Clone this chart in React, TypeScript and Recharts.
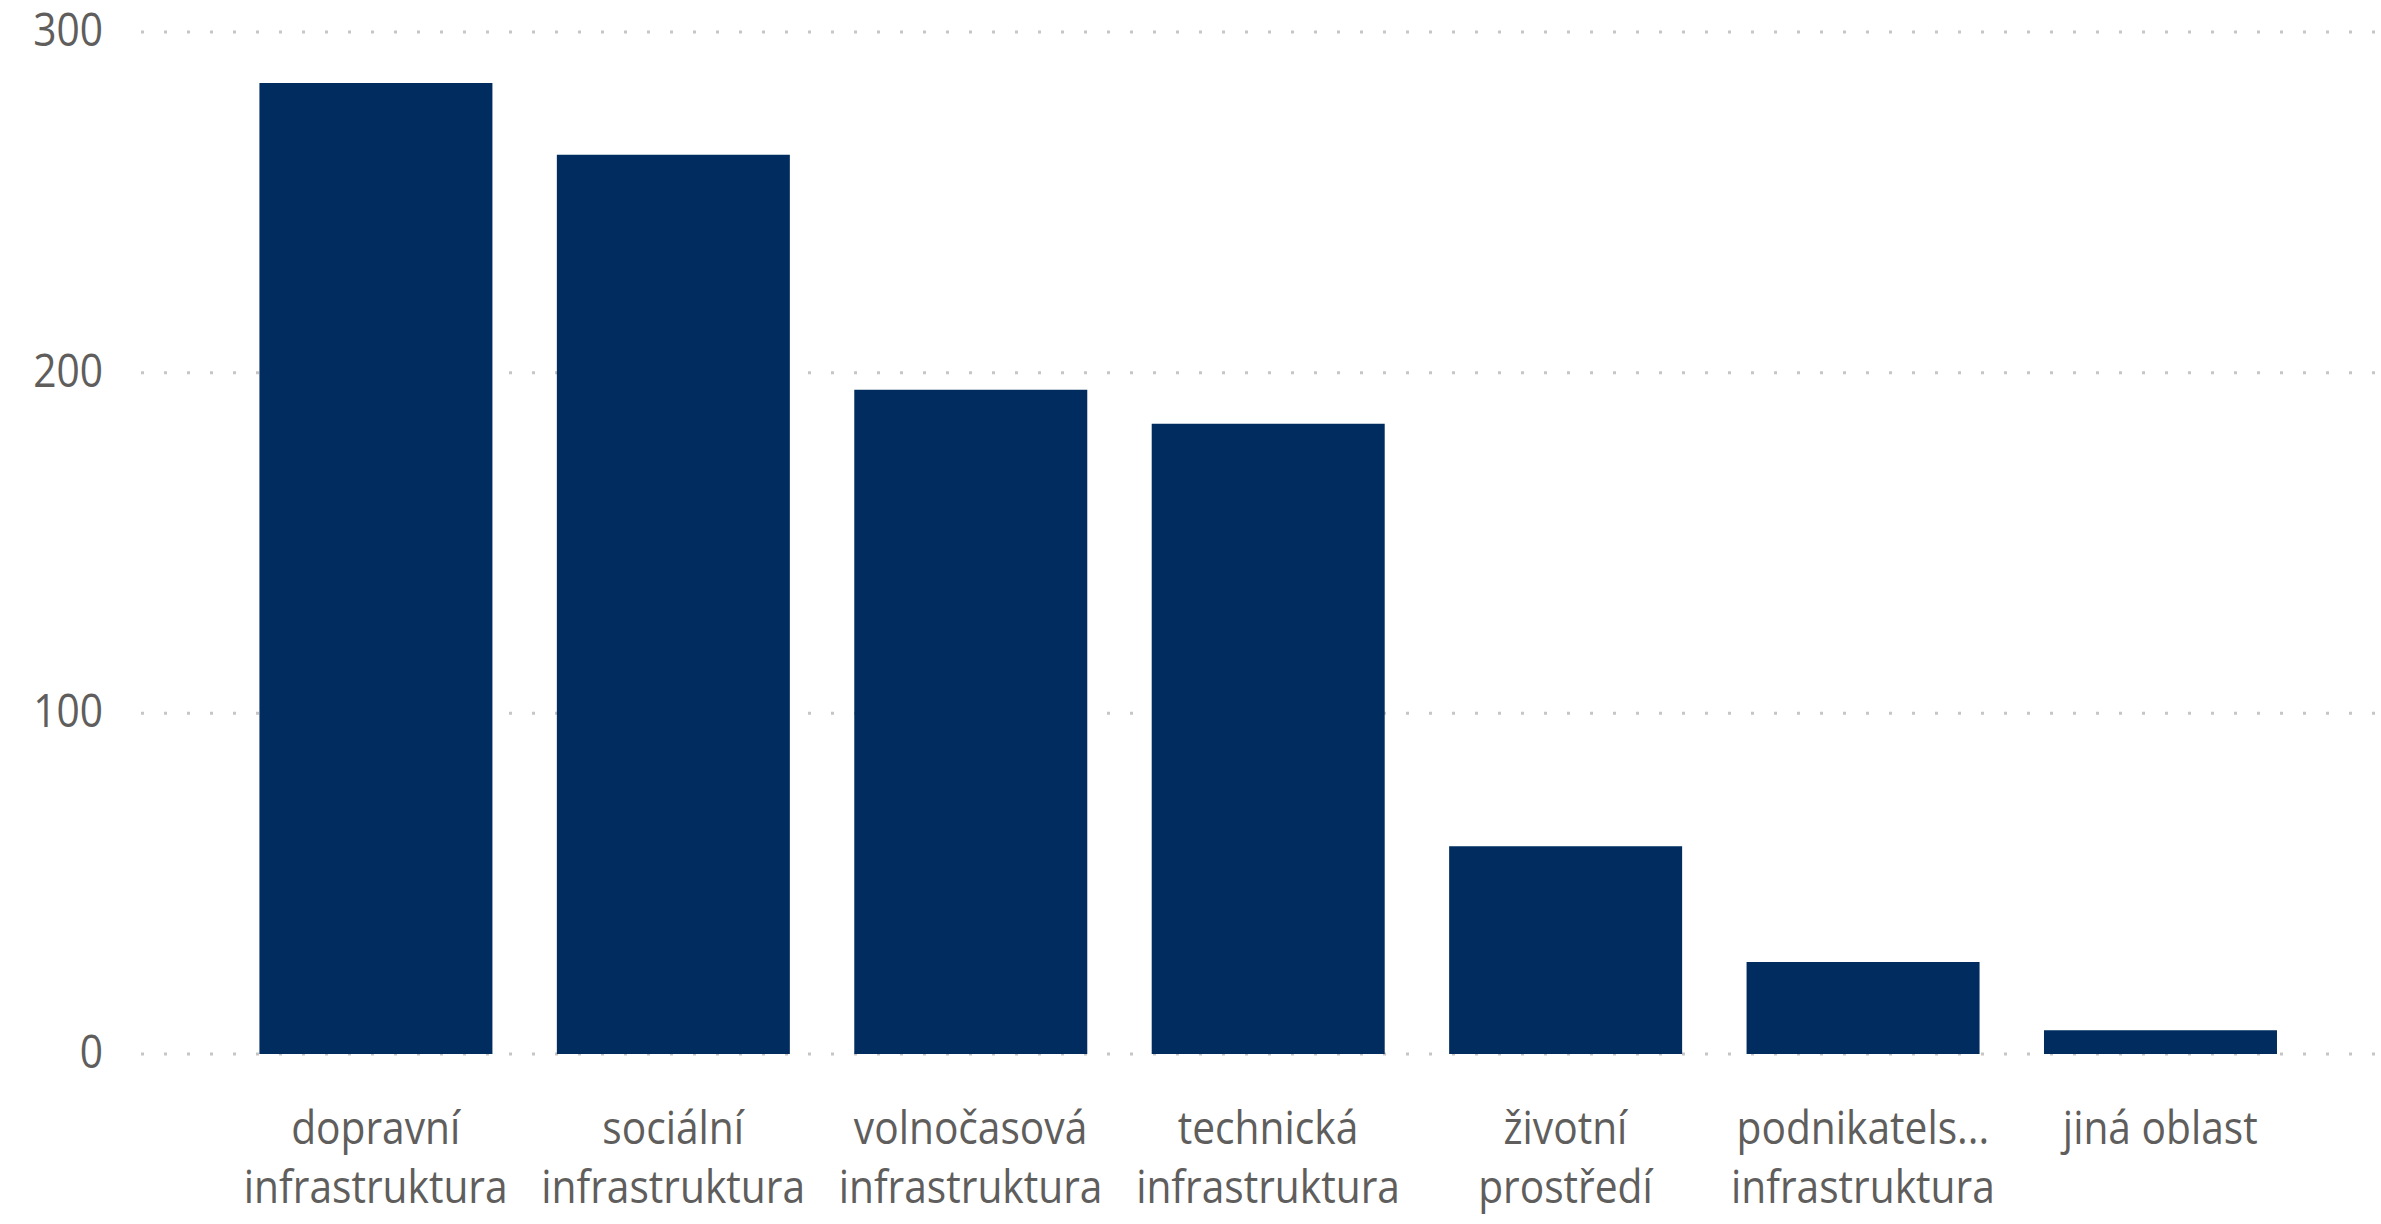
import React from "react";
import { BarChart, Bar, XAxis, YAxis, CartesianGrid } from "recharts";

const categories = [
  "dopravní infrastruktura",
  "sociální infrastruktura",
  "volnočasová infrastruktura",
  "technická infrastruktura",
  "životní prostředí",
  "podnikatelská infrastruktura",
  "jiná oblast",
];
const xTickLines = [
  ["dopravní", "infrastruktura"],
  ["sociální", "infrastruktura"],
  ["volnočasová", "infrastruktura"],
  ["technická", "infrastruktura"],
  ["životní", "prostředí"],
  ["podnikatels...", "infrastruktura"],
  ["jiná oblast"],
];
const values = [285, 264, 195, 185, 61, 27, 7];
const yTicks = [0, 100, 200, 300];

const data = categories.map((c, i) => ({ name: c, value: values[i] }));

const FONT = "'Open Sans', 'Noto Sans', sans-serif";
const TEXT = "#605E5C";

const XTick = (props: any) => {
  const { x, y, payload } = props;
  const idx = categories.indexOf(payload.value);
  const lines = xTickLines[idx] || [String(payload.value)];
  return (
    <g transform={`translate(${x},${y}) scale(0.885,1)`}>
      <text textAnchor="middle" fontFamily={FONT} fontSize={46} fill={TEXT}>
        {lines.map((l, i) => (
          <tspan key={i} x={0} y={90 + i * 59}>
            {l}
          </tspan>
        ))}
      </text>
    </g>
  );
};

const YTick = (props: any) => {
  const { x, y, payload } = props;
  return (
    <g transform={`translate(${x},${y}) scale(0.885,1)`}>
      <text x={0} y={14} textAnchor="end" fontFamily={FONT} fontSize={46} fill={TEXT}>
        {payload.value}
      </text>
    </g>
  );
};

export default function App() {
  return (
    <div style={{ position: "absolute", left: 0, top: 0, background: "#fff" }}>
      <BarChart
        width={2381}
        height={1224}
        data={data}
        margin={{ top: 32, right: 0, bottom: 0, left: 0 }}
        barCategoryGap="10.9%"
      >
        <CartesianGrid
          vertical={false}
          stroke="#c8c6c4"
          strokeWidth={3}
          strokeDasharray="3 20"
        />
        <XAxis
          dataKey="name"
          axisLine={false}
          tickLine={false}
          tickSize={0}
          tickMargin={0}
          height={170}
          interval={0}
          padding={{ left: 86, right: 72 }}
          tick={<XTick />}
        />
        <YAxis
          domain={[0, 300]}
          ticks={yTicks}
          axisLine={false}
          tickLine={false}
          tickSize={0}
          tickMargin={38}
          width={141}
          tick={<YTick />}
        />
        <Bar dataKey="value" fill="#002C5F" isAnimationActive={false} />
      </BarChart>
    </div>
  );
}
